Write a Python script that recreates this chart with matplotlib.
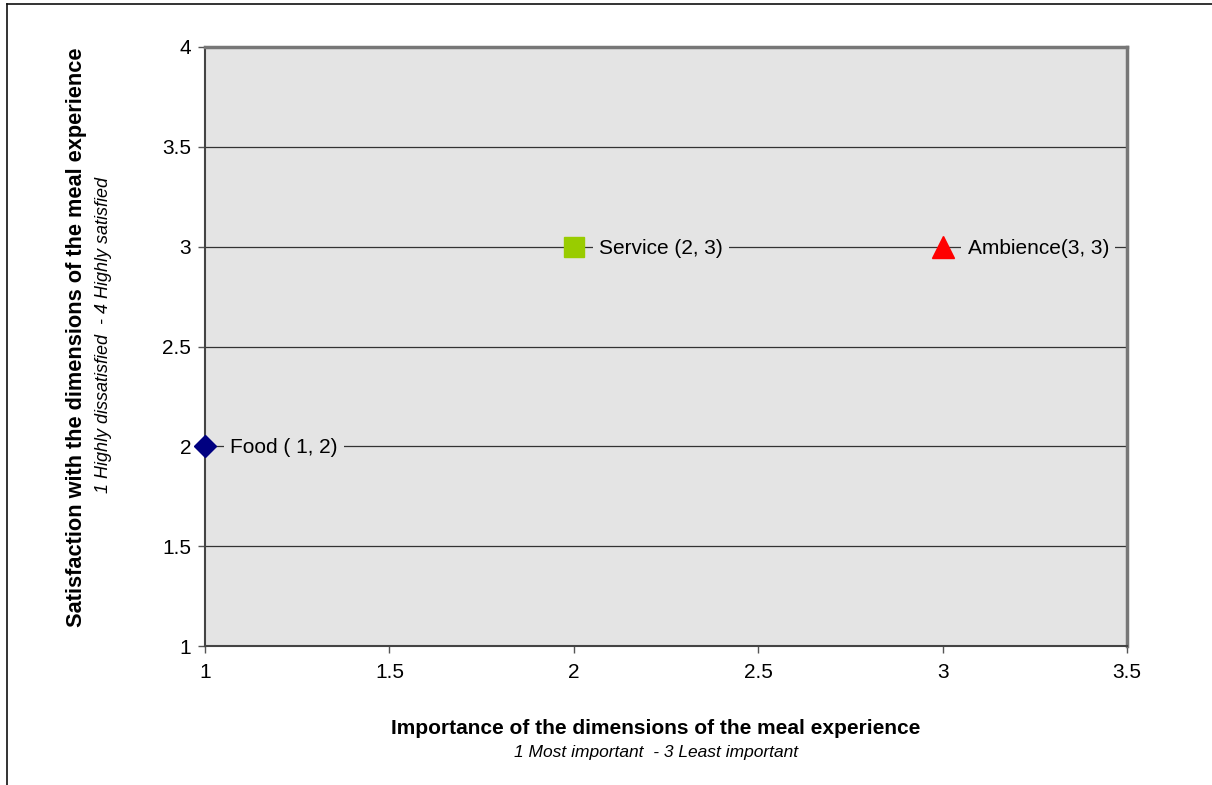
import matplotlib.pyplot as plt

plt.rcParams['font.family'] = ['Liberation Sans', 'DejaVu Sans']

# data
names = ['Food ( 1, 2)', 'Service (2, 3)', 'Ambience(3, 3)']
importance = [1, 2, 3]
satisfaction = [2, 3, 3]
markers = ['D', 's', '^']
colors = ['#000080', '#99CC00', '#FF0000']
msizes = [11, 14, 16]

fig = plt.figure(figsize=(12.12, 7.85), dpi=100)
ax = fig.add_axes([205/1212, 1-646/785, (1127-205)/1212, (646-47)/785])
ax.set_facecolor('#E4E4E4')

ax.set_xlim(1, 3.5)
ax.set_ylim(1, 4)
ax.set_xticks([1, 1.5, 2, 2.5, 3, 3.5])
ax.set_xticklabels(['1', '1.5', '2', '2.5', '3', '3.5'])
ax.set_yticks([1, 1.5, 2, 2.5, 3, 3.5, 4])
ax.set_yticklabels(['1', '1.5', '2', '2.5', '3', '3.5', '4'])
ax.tick_params(labelsize=15, length=5, color='#555555', width=1)
ax.tick_params(axis='x', pad=7)
ax.tick_params(axis='y', pad=5)
ax.yaxis.grid(True, color='#333333', linewidth=0.9)
ax.set_axisbelow(True)

for side in ['left', 'bottom']:
    ax.spines[side].set_color('#444444')
    ax.spines[side].set_linewidth(1.5)
for side in ['top', 'right']:
    ax.spines[side].set_color('#777777')
    ax.spines[side].set_linewidth(2.5)

for x, y, m, c, s, n in zip(importance, satisfaction, markers, colors, msizes, names):
    ax.plot(x, y, marker=m, color=c, markersize=s, linestyle='none',
            clip_on=False, zorder=5)
    ax.annotate(n, (x, y), xytext=(18, -1), textcoords='offset points',
                fontsize=15, va='center', ha='left', zorder=6,
                bbox=dict(boxstyle='square,pad=0.3', fc='#E4E4E4', ec='none'))

fig.text(656/1212, 1-729/785, 'Importance of the dimensions of the meal experience',
         ha='center', va='center', fontsize=15, fontweight='bold')
fig.text(656/1212, 1-752/785, '1 Most important  - 3 Least important',
         ha='center', va='center', fontsize=12.5, style='italic')
fig.text(77/1212, 1-337/785, 'Satisfaction with the dimensions of the meal experience',
         ha='center', va='center', fontsize=15.7, fontweight='bold', rotation=90)
fig.text(104/1212, 1-335/785, '1 Highly dissatisfied  - 4 Highly satisfied',
         ha='center', va='center', fontsize=13, style='italic', rotation=90)

# outer frame (cut off at right and bottom)
fig.add_artist(plt.Line2D([7/1212, 1], [1-4/785, 1-4/785], color='#111111',
                          linewidth=1.2, transform=fig.transFigure))
fig.add_artist(plt.Line2D([7/1212, 7/1212], [0, 1-4/785], color='#111111',
                          linewidth=1.2, transform=fig.transFigure))

fig.savefig('out.png', dpi=100)
